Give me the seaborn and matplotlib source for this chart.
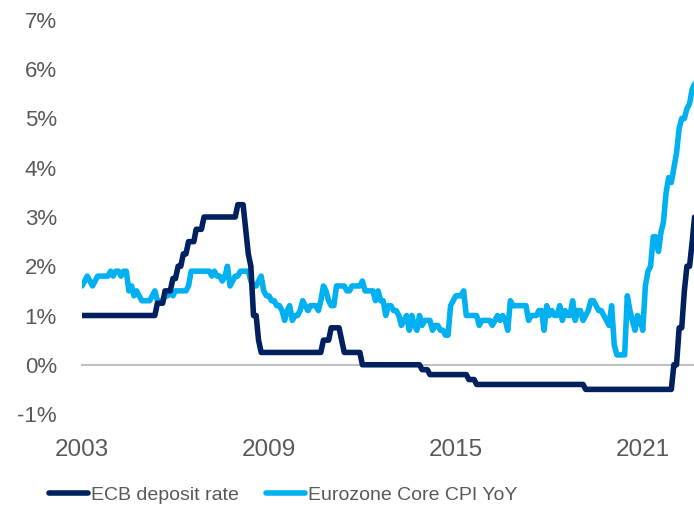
import pandas as pd
import seaborn as sns
import matplotlib.pyplot as plt
from matplotlib import font_manager

# monthly series, first point = Jul 2003
START = "2003-07-01"

# Eurozone core CPI YoY (%), one row per calendar year
core_cpi = [
    1.6, 1.7, 1.8, 1.7, 1.6, 1.7,                                # 2003 (Jul-Dec)
    1.8, 1.8, 1.8, 1.8, 1.8, 1.9, 1.8, 1.9, 1.9, 1.8, 1.9, 1.9,  # 2004
    1.5, 1.6, 1.4, 1.5, 1.4, 1.3, 1.3, 1.3, 1.3, 1.4, 1.5, 1.3,  # 2005
    1.3, 1.3, 1.4, 1.4, 1.5, 1.4, 1.5, 1.5, 1.5, 1.5, 1.5, 1.6,  # 2006
    1.9, 1.9, 1.9, 1.9, 1.9, 1.9, 1.9, 1.9, 1.8, 1.9, 1.8, 1.8,  # 2007
    1.7, 1.8, 2.0, 1.6, 1.7, 1.8, 1.8, 1.9, 1.9, 1.9, 1.9, 1.7,  # 2008
    1.6, 1.6, 1.7, 1.8, 1.5, 1.4, 1.4, 1.3, 1.3, 1.2, 1.2, 1.1,  # 2009
    0.9, 1.1, 1.2, 0.9, 1.0, 1.0, 1.1, 1.3, 1.2, 1.1, 1.2, 1.2,  # 2010
    1.2, 1.1, 1.3, 1.6, 1.5, 1.3, 1.2, 1.2, 1.6, 1.6, 1.6, 1.6,  # 2011
    1.5, 1.5, 1.6, 1.6, 1.6, 1.6, 1.7, 1.5, 1.5, 1.5, 1.5, 1.3,  # 2012
    1.5, 1.3, 1.3, 1.0, 1.2, 1.2, 1.1, 1.1, 1.0, 0.8, 0.9, 1.0,  # 2013
    0.7, 1.0, 0.8, 0.7, 1.0, 0.8, 0.9, 0.9, 0.9, 0.7, 0.8, 0.8,  # 2014
    0.7, 0.7, 0.6, 0.6, 1.2, 1.3, 1.4, 1.4, 1.4, 1.5, 1.0, 1.0,  # 2015
    1.0, 1.0, 1.0, 0.8, 0.9, 0.9, 0.9, 0.9, 0.8, 0.9, 1.0, 0.9,  # 2016
    1.0, 0.9, 0.7, 1.3, 1.2, 1.2, 1.2, 1.2, 1.2, 1.2, 0.9, 1.0,  # 2017
    1.0, 1.0, 1.1, 1.1, 0.7, 1.2, 1.0, 1.1, 1.0, 1.0, 1.2, 0.9,  # 2018
    1.1, 1.0, 1.0, 1.3, 0.9, 1.1, 1.1, 0.9, 1.0, 1.1, 1.3, 1.3,  # 2019
    1.2, 1.1, 1.1, 1.0, 0.9, 0.8, 1.2, 0.4, 0.2, 0.2, 0.2, 0.2,  # 2020
    1.4, 1.1, 0.9, 0.7, 1.0, 0.9, 0.7, 1.6, 1.9, 2.0, 2.6, 2.6,  # 2021
    2.3, 2.7, 2.9, 3.5, 3.8, 3.7, 4.0, 4.3, 4.8, 5.0, 5.0, 5.2,  # 2022
    5.3, 5.6, 5.7,                                               # 2023 (Jan-Mar)
]

# ECB deposit facility rate (%): month of each change and the new rate
ecb_months = [
    "2003-06", "2005-12", "2006-03", "2006-06", "2006-08", "2006-10",
    "2006-12", "2007-03", "2007-06", "2008-07", "2008-10", "2008-11",
    "2008-12", "2009-01", "2009-03", "2009-04", "2011-04", "2011-07",
    "2011-11", "2011-12", "2012-07", "2014-06", "2014-09", "2015-12",
    "2016-03", "2019-09", "2022-07", "2022-09", "2022-11", "2022-12",
    "2023-02", "2023-03",
]
ecb_rates = [
    1.00, 1.25, 1.50, 1.75, 2.00, 2.25,
    2.50, 2.75, 3.00, 3.25, 2.75, 2.25,
    2.00, 1.00, 0.50, 0.25, 0.50, 0.75,
    0.50, 0.25, 0.00, -0.10, -0.20, -0.30,
    -0.40, -0.50, 0.00, 0.75, 1.50, 2.00,
    2.50, 3.00,
]

y_ticks = [-1, 0, 1, 2, 3, 4, 5, 6, 7]
x_tick_years = [2003, 2009, 2015, 2021]

dates = pd.date_range(START, periods=len(core_cpi), freq="MS")
ecb = pd.Series(ecb_rates, index=pd.to_datetime(ecb_months)).reindex(dates, method="ffill")

NAVY = "#002060"
CYAN = "#00B0F0"
GREY_TXT = "#595959"
GREY_AX = "#BFBFBF"

sns.set_style("white")
names = {f.name for f in font_manager.fontManager.ttflist}
plt.rcParams["font.family"] = ["Liberation Sans", "DejaVu Sans"]
legend_font = "Liberation Sans Narrow" if "Liberation Sans Narrow" in names else "Liberation Sans"
legend_size = 16 if legend_font.endswith("Narrow") else 14

fig = plt.figure(figsize=(6.94, 5.08), dpi=100)
ax = fig.add_axes([82 / 694, 94 / 508, 612 / 694, 394 / 508])

sns.lineplot(x=dates, y=core_cpi, color=CYAN, linewidth=4.0, ax=ax,
             label="Eurozone Core CPI YoY")
sns.lineplot(x=dates, y=ecb.values, color=NAVY, linewidth=4.0, ax=ax,
             label="ECB deposit rate")
for ln in ax.lines:
    ln.set_solid_joinstyle("round")
    ln.set_zorder(3)

ax.set_xlim(pd.Timestamp(START), pd.Timestamp("2023-02-22"))
ax.set_ylim(-1, 7)
ax.set_xlabel("")
ax.set_ylabel("")

ax.set_yticks(y_ticks)
ax.set_yticklabels([f"{v}%" for v in y_ticks])
ax.set_xticks([pd.Timestamp(f"{y}-07-01") for y in x_tick_years])
ax.set_xticklabels([str(y) for y in x_tick_years])

ax.tick_params(axis="y", length=0, pad=18, labelsize=16, labelcolor=GREY_TXT)
ax.tick_params(axis="x", direction="out", length=4.5, width=1.2, color=GREY_AX,
               pad=49, labelsize=17.5, labelcolor=GREY_TXT)

for side in ["top", "right", "left"]:
    ax.spines[side].set_visible(False)
ax.spines["bottom"].set_position(("data", 0))
ax.spines["bottom"].set_color(GREY_AX)
ax.spines["bottom"].set_linewidth(1.5)
ax.grid(False)

handles, labels = ax.get_legend_handles_labels()
ax.get_legend().remove()
leg = fig.legend(handles[::-1], labels[::-1], loc="center",
                 bbox_to_anchor=(0.4085, 0.026), ncol=2, frameon=False,
                 handlelength=2.0, handletextpad=0.15, columnspacing=1.4,
                 prop={"family": legend_font, "size": legend_size},
                 labelcolor=GREY_TXT)
for h in leg.legend_handles:
    h.set_solid_capstyle("round")

plt.savefig("out.png", dpi=100)
